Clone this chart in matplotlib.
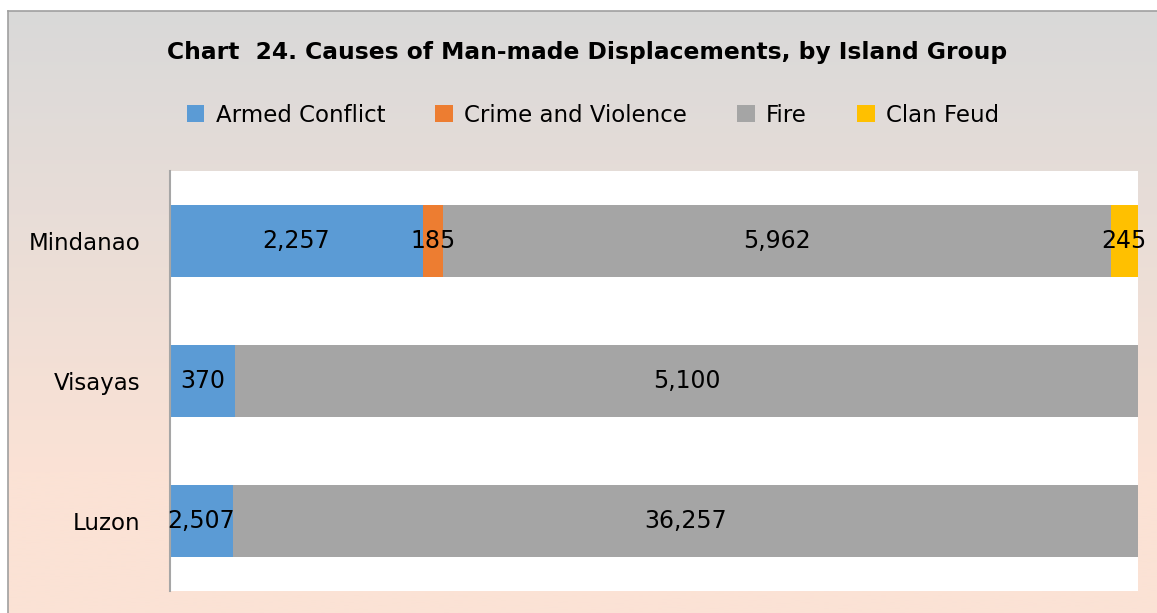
import numpy as np
import matplotlib.pyplot as plt

plt.rcParams['font.family'] = ['DejaVu Sans']

# === DATA ===
groups = ["Mindanao", "Visayas", "Luzon"]
causes = ["Armed Conflict", "Crime and Violence", "Fire", "Clan Feud"]
armed = [2257, 370, 2507]
crime = [185, 0, 0]
fire = [5962, 5100, 36257]
feud = [245, 0, 0]
colors = ["#5b9bd5", "#ed7d31", "#a5a5a5", "#ffc000"]

W, H = 1157, 613
fig = plt.figure(figsize=(W / 100, H / 100), dpi=100)
fig.patch.set_facecolor("white")

# gradient background of the chart frame (runs off the right and bottom edges)
bg = fig.add_axes([8 / W, -0.02, 1.05, (H - 11) / H + 0.02], zorder=0)
top = np.array([217, 217, 217]) / 255
bot = np.array([251, 226, 213]) / 255
t = np.linspace(0, 1, 256)[:, None]
t = np.clip(t / 0.75, 0, 1)
grad = top[None, :] * (1 - t) + bot[None, :] * t
bg.imshow(grad[:, None, :], aspect="auto", extent=[0, 1, 0, 1])
bg.set_xlim(0, 1); bg.set_ylim(0, 1)
bg.set_xticks([]); bg.set_yticks([])
for s in ["right", "bottom"]:
    bg.spines[s].set_visible(False)
for s in ["left", "top"]:
    bg.spines[s].set_color("#a0a0a0")
    bg.spines[s].set_linewidth(1.2)

# plot area
ax = fig.add_axes([170 / W, 1 - 591 / H, (1138 - 170) / W, (591 - 171) / H], zorder=1)
ax.set_facecolor("white")

series = [armed, crime, fire, feud]
totals = np.sum(series, axis=0)
y = np.arange(len(groups))
left = np.zeros(len(groups))
for vals, c, name in zip(series, colors, causes):
    vals = np.array(vals, dtype=float)
    frac = vals / totals
    ax.barh(y, frac, left=left, height=0.51, color=c, label=name,
            edgecolor="none")
    for yi, v, l, f in zip(y, vals, left, frac):
        if v > 0:
            ax.text(l + f / 2, yi, f"{int(v):,}", ha="center", va="center",
                    fontsize=17, color="black")
    left += frac

ax.set_xlim(0, 1)
ax.set_ylim(len(groups) - 0.5, -0.5)
ax.set_xticks([])
ax.set_yticks(y)
ax.set_yticklabels(groups, fontsize=16.5)
ax.tick_params(axis="y", length=0, pad=21)
for s in ["top", "right", "bottom"]:
    ax.spines[s].set_visible(False)
ax.spines["left"].set_color("#a6a6a6")
ax.spines["left"].set_linewidth(1.5)

fig.text(587 / W, 1 - 52 / H, "Chart  24. Causes of Man-made Displacements, by Island Group",
         ha="center", va="center", fontsize=16.8, fontweight="bold")

handles, labels = ax.get_legend_handles_labels()
fig.legend(handles, labels, loc="center", bbox_to_anchor=(593 / W, 1 - 115 / H),
           ncol=4, frameon=False, fontsize=16.5, handlelength=0.75, handleheight=0.75,
           handletextpad=0.5, columnspacing=2.2)

fig.savefig("out.png", dpi=100)
